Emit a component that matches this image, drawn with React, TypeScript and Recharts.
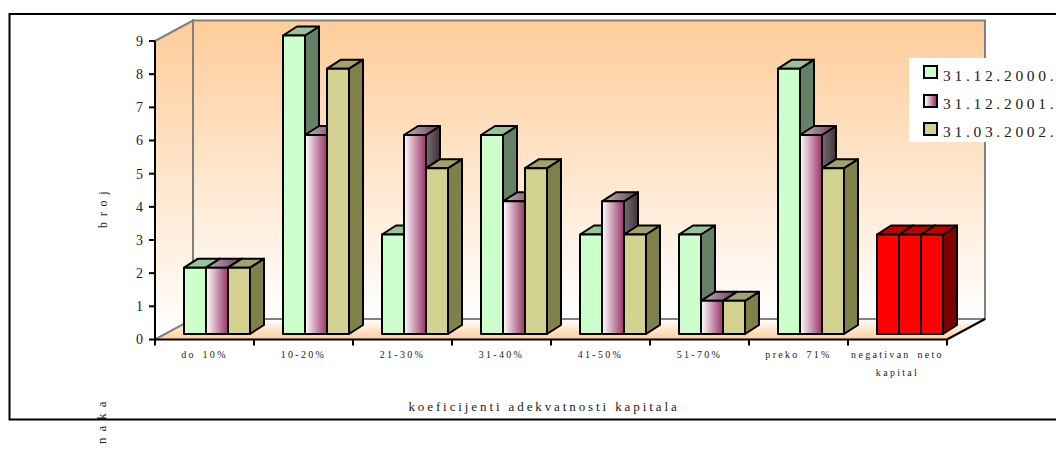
import { BarChart, Bar, XAxis, YAxis, Legend } from "recharts";

const categories = ["do 10%", "10-20%", "21-30%", "31-40%", "41-50%", "51-70%", "preko 71%", "negativan neto kapital"];
const dec2000 = [2, 9, 3, 6, 3, 3, 8, 3];
const dec2001 = [2, 6, 6, 4, 4, 1, 6, 3];
const mar2002 = [2, 8, 5, 5, 3, 1, 5, 3];
const yTicks = [0, 1, 2, 3, 4, 5, 6, 7, 8, 9];

const data = categories.map((name, i) => ({
  name,
  dec2000: dec2000[i],
  dec2001: dec2001[i],
  mar2002: mar2002[i],
}));

const FONT = "'Liberation Serif', 'Times New Roman', serif";
const TEXT = "#222";
const WALL_LINE = "#808080";

// plot box
const LEFT = 155;
const RIGHT = 947;
const TOP = 41;
const BOTTOM = 339.5;
const BAND = (RIGHT - LEFT) / categories.length;

// 3d offsets
const DEPTH_X = 38;
const DEPTH_Y = 20.5;
const BAR_DX = 12; // bars stand a bit inside the floor
const BAR_DY = -5.5;
const SIDE_X = 14;
const SIDE_Y = 9;

const green = { front: "#CCFFCC", side: "#668066", top: "#99C299" };
const plum = { front: "url(#plumFront)", side: "url(#plumSide)", top: "url(#plumTop)" };
const olive = { front: "#D4D290", side: "#808049", top: "#A3A26C" };
const red = { front: "#FF0000", side: "#7F0000", top: "#BF0000" };

const Bar3D = (props: any) => {
  const { x, y, width, height, index, palette } = props;
  const c = index === categories.length - 1 ? red : palette;
  const l = x + BAR_DX;
  const r = l + width;
  const t = y + BAR_DY;
  const b = t + height;
  return (
    <g stroke="#000" strokeWidth={2} strokeLinejoin="round">
      <polygon points={`${r},${t} ${r + SIDE_X},${t - SIDE_Y} ${r + SIDE_X},${b - SIDE_Y} ${r},${b}`} fill={c.side} />
      <polygon points={`${l},${t} ${l + SIDE_X},${t - SIDE_Y} ${r + SIDE_X},${t - SIDE_Y} ${r},${t}`} fill={c.top} />
      <rect x={l} y={t} width={width} height={height} fill={c.front} />
    </g>
  );
};

// back wall, left wall and floor behind the bars
const Walls = () => (
  <g>
    <defs>
      <linearGradient id="wall" x1="0" y1="0" x2="0" y2="1">
        <stop offset="0%" stopColor="#FFCC99" />
        <stop offset="100%" stopColor="#FFFFFF" />
      </linearGradient>
      <linearGradient id="floor" x1="0" y1="0" x2="0" y2="1">
        <stop offset="0%" stopColor="#FFFFFF" />
        <stop offset="100%" stopColor="#FFCC99" />
      </linearGradient>
      <linearGradient id="plumFront" x1="0" y1="0" x2="1" y2="0">
        <stop offset="0%" stopColor="#FFFFFF" />
        <stop offset="100%" stopColor="#993366" />
      </linearGradient>
      <linearGradient id="plumSide" x1="0" y1="0" x2="1" y2="0">
        <stop offset="0%" stopColor="#707070" />
        <stop offset="100%" stopColor="#44303A" />
      </linearGradient>
      <linearGradient id="plumTop" x1="0" y1="0" x2="1" y2="0">
        <stop offset="0%" stopColor="#C4B4BC" />
        <stop offset="100%" stopColor="#6A3A55" />
      </linearGradient>
    </defs>
    <polygon
      points={`${LEFT},${BOTTOM} ${LEFT + DEPTH_X},${BOTTOM - DEPTH_Y} ${RIGHT + DEPTH_X},${BOTTOM - DEPTH_Y} ${RIGHT},${BOTTOM}`}
      fill="url(#floor)"
    />
    <polygon
      points={`${LEFT},${TOP} ${LEFT + DEPTH_X},${TOP - DEPTH_Y} ${LEFT + DEPTH_X},${BOTTOM - DEPTH_Y} ${LEFT},${BOTTOM}`}
      fill="url(#wall)"
      stroke={WALL_LINE}
      strokeWidth={2}
    />
    <rect
      x={LEFT + DEPTH_X}
      y={TOP - DEPTH_Y}
      width={RIGHT - LEFT}
      height={BOTTOM - TOP}
      fill="url(#wall)"
      stroke={WALL_LINE}
      strokeWidth={2}
    />
    <line x1={RIGHT} y1={BOTTOM} x2={RIGHT + DEPTH_X} y2={BOTTOM - DEPTH_Y} stroke="#000" strokeWidth={2} />
  </g>
);

// outer frame and the titles, frame has no right edge in the source
const Frame = () => (
  <g fontFamily={FONT} fill={TEXT}>
    <text x={544} y={411} fontSize={13} letterSpacing={2.9} textAnchor="middle">
      koeficijenti adekvatnosti kapitala
    </text>
    <text transform="translate(107 209) rotate(-90)" fontSize={12} letterSpacing={1.4} textAnchor="middle">
      b r o j
    </text>
    <text transform="translate(106 422) rotate(-90)" fontSize={13} letterSpacing={1.4} textAnchor="middle">
      n a k a
    </text>
    <path d="M1056 14 H9.5 V419.5 H1056" fill="none" stroke="#000" strokeWidth={2} />
  </g>
);

const CategoryTick = (props: any) => {
  const { x, payload, index } = props;
  const words = String(payload.value);
  const lines = words.length > 12 ? ["negativan neto", "kapital"] : [words];
  return (
    <g>
      <line x1={x - BAND / 2} y1={BOTTOM} x2={x - BAND / 2} y2={BOTTOM + 6} stroke="#000" strokeWidth={2} />
      {index === categories.length - 1 && (
        <line x1={x + BAND / 2} y1={BOTTOM} x2={x + BAND / 2} y2={BOTTOM + 6} stroke="#000" strokeWidth={2} />
      )}
      {lines.map((line, i) => (
        <text
          key={line}
          x={x}
          y={BOTTOM + 18 + i * 18}
          textAnchor="middle"
          fontFamily={FONT}
          fontSize={10}
          letterSpacing={2.3}
          wordSpacing={2}
          fill={TEXT}
        >
          {line}
        </text>
      ))}
    </g>
  );
};

const swatches: Record<string, string> = {
  "31.12.2000.": "#CCFFCC",
  "31.12.2001.": "linear-gradient(to right, #FFFFFF, #993366)",
  "31.03.2002.": "#D4D290",
};

const LegendBox = ({ payload }: any) => (
  <div style={{ width: 147, height: 84, background: "#fff", overflow: "hidden", position: "relative" }}>
    {(payload || []).map((entry: any, i: number) => (
      <div key={entry.value}>
        <div
          style={{
            position: "absolute",
            left: 14,
            top: 7 + i * 28.5,
            width: 11,
            height: 10,
            border: "2px solid #000",
            background: swatches[entry.value],
          }}
        />
        <div
          style={{
            position: "absolute",
            left: 34,
            top: 9 + i * 27.8,
            fontFamily: FONT,
            fontSize: 15.5,
            lineHeight: "18px",
            letterSpacing: 3.7,
            color: TEXT,
            whiteSpace: "nowrap",
          }}
        >
          {entry.value}
        </div>
      </div>
    ))}
  </div>
);

export default function App() {
  return (
    <div style={{ position: "absolute", left: 0, top: 0, width: 1056, height: 451, overflow: "hidden", background: "#fff" }}>
      <BarChart
        width={1056}
        height={451}
        data={data}
        barSize={22}
        barGap={0}
        margin={{ top: TOP, right: 1056 - RIGHT, bottom: 451 - BOTTOM - 40, left: LEFT - 40 }}
      >
        <Walls />
        <XAxis
          dataKey="name"
          height={40}
          interval={0}
          axisLine={{ stroke: "#000", strokeWidth: 2 }}
          tickLine={false}
          tick={<CategoryTick />}
        />
        <YAxis
          width={40}
          domain={[0, 9]}
          ticks={yTicks}
          interval={0}
          axisLine={{ stroke: "#000", strokeWidth: 2 }}
          tickLine={{ stroke: "#000", strokeWidth: 2 }}
          tickSize={6}
          tickMargin={6}
          tick={{ fontFamily: FONT, fontSize: 14, fill: TEXT }}
        />
        <Bar dataKey="dec2000" name="31.12.2000." fill="#CCFFCC" isAnimationActive={false} shape={(p: any) => <Bar3D {...p} palette={green} />} />
        <Bar dataKey="dec2001" name="31.12.2001." fill="#993366" isAnimationActive={false} shape={(p: any) => <Bar3D {...p} palette={plum} />} />
        <Bar dataKey="mar2002" name="31.03.2002." fill="#D4D290" isAnimationActive={false} shape={(p: any) => <Bar3D {...p} palette={olive} />} />
        <Legend
          content={<LegendBox />}
          layout="vertical"
          align="center"
          verticalAlign="middle"
          itemSorter={null}
          wrapperStyle={{ position: "absolute", left: 909, top: 58, width: 147, height: 84 }}
        />
        <Frame />
      </BarChart>
    </div>
  );
}
